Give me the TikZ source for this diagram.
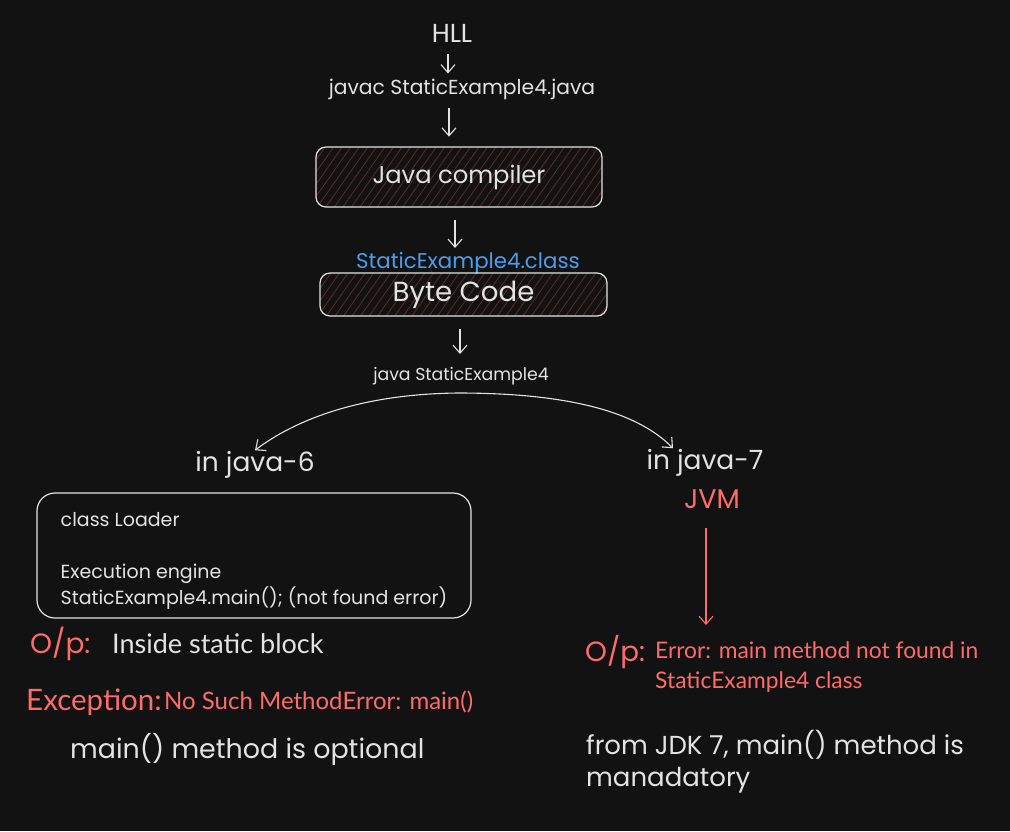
\documentclass[tikz,border=0pt]{standalone}
\usepackage{fontspec}
\setmainfont{Poppins}
\newfontfamily\nunito{Lato}
\usetikzlibrary{arrows.meta,patterns.meta,positioning}
\definecolor{bg}{HTML}{121212}
\definecolor{ink}{HTML}{E3E3E3}
\definecolor{errred}{HTML}{FF6B6B}
\definecolor{fileblue}{HTML}{4A9EED}
\definecolor{hatchred}{HTML}{5E2C2C}
\newcommand{\fsz}[2]{\fontsize{#1}{#2}\selectfont}

\begin{document}
\begin{tikzpicture}[x=1pt,y=-1pt]

\tikzset{>={Straight Barb[length=8pt,width=14pt]}}
\tikzstyle{sketch} = [text=ink, inner sep=1pt];
\tikzstyle{hatched} = [
	draw=ink, line width=1.2pt, rounded corners=10pt,
	pattern={Lines[angle=55,distance=7pt,line width=0.8pt]},
	pattern color=hatchred ];
\tikzstyle{flow} = [->, draw=ink, line width=1.1pt];
\tikzstyle{note} = [inner sep=0pt, anchor=base west, font=\nunito\fsz{27}{30}];

\fill[bg] (0,0) rectangle (1010,831);

% compile chain
\node[sketch,font=\fsz{26}{28}] (hll) at (452,33) {HLL};
\node[sketch,font=\fsz{20.3}{22}] (javac) at (462,89) {javac StaticExample4.java};
\node[hatched,sketch,minimum width=286pt,minimum height=60pt,font=\fsz{24.2}{28}] (compiler) at (459,177) {Java compiler};
\node[sketch,text=fileblue,font=\fsz{21.3}{24}] (classfile) at (468,263) {StaticExample4.class};
\node[hatched,sketch,minimum width=287pt,minimum height=43pt,font=\fsz{27.6}{30}] (bytecode) at (463.5,294.5) {Byte Code};
\node[sketch,font=\fsz{17.3}{19}] (run) at (461,376) {java StaticExample4};
\coordinate (split) at (458,393);

\draw[flow,shorten <=11pt,shorten >=4pt] ([xshift=-4pt]hll.south) -- ([xshift=-4pt]hll.south |- javac.north);
\draw[flow,shorten <=7pt,shorten >=10pt] ([xshift=-13pt]javac.south) -- ([xshift=-13pt]javac.south |- compiler.north);
\draw[flow,shorten <=13pt,shorten >=3pt] ([xshift=-4pt]compiler.south) -- ([xshift=-4pt]compiler.south |- classfile.north);
\draw[flow,shorten <=12pt,shorten >=12pt] ([xshift=-3.5pt]bytecode.south) -- ([xshift=-3.5pt]bytecode.south |- run.north);

% two versions
\node[sketch,font=\fsz{26.5}{30}] (in6) at (255,465) {in java-6};
\node[sketch,font=\fsz{26.5}{30}] (in7) at (705,463) {in java-7};
\node[sketch,text=errred,font=\fsz{27}{30}] (jvm) at (712,499) {JVM};

\draw[flow] (split) .. controls (360,394) and (295,420) .. (in6.north);
\draw[flow] (split) .. controls (590,393) and (645,420) .. ([xshift=-32pt]in7.north);

% java 6 side
\node[draw=ink,line width=1.2pt,rounded corners=18pt,text=ink,
	minimum width=434pt,minimum height=125pt,align=left,
	font=\fsz{19}{26}] (loader) at (254,555.5)
	{\rule{0pt}{24pt}class Loader\\[26pt]Execution engine\\StaticExample4.main(); (not found error)};

\node[note,text=errred,font=\fsz{28}{30}] (op6) at (30,653) {O/p:};
\node[note,text=ink] (inside) at (112,653) {Inside static block};
\node[note,text=errred,font=\nunito\fsz{29.5}{32}] (exc) at (26,710) {Exception:};
\node[note,text=errred,font=\nunito\fsz{24}{28}] (nsme) at (164,709) {No Such MethodError: main()};
\node[note,text=ink,font=\fsz{26.9}{30}] (optional) at (70,758) {main() method is optional};

% java 7 side
\coordinate (jvmout) at (706,625);
\draw[flow,draw=errred,shorten <=18pt] ([xshift=-6pt]jvm.south) -- (jvmout);

\node[note,text=errred,font=\fsz{27.8}{30}] (op7) at (585,661) {O/p:};
\node[note,text=errred,font=\nunito\fsz{22.8}{30},align=left,anchor=north west] (notfound) at (655,641)
	{Error: main method not found in\\StaticExample4 class};
\node[note,text=ink,font=\fsz{26}{32},align=left,anchor=north west] (mandatory) at (586,730)
	{from JDK 7, main() method is\\manadatory};

\end{tikzpicture}
\end{document}
